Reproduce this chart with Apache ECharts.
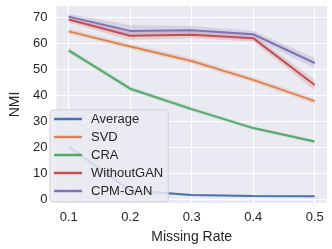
<!DOCTYPE html>
<html><head><meta charset="utf-8">
<script src="https://cdn.jsdelivr.net/npm/echarts@6/dist/echarts.min.js"></script>
<style>html,body{margin:0;padding:0;background:#fff}#c{width:332px;height:249px}</style>
</head><body><div id="c"></div>
<script>
const rates = [0.1, 0.2, 0.3, 0.4, 0.5];
const xTicks = [0.1, 0.2, 0.3, 0.4, 0.5];
const yTicks = [0, 10, 20, 30, 40, 50, 60, 70];
const names = ['Average', 'SVD', 'CRA', 'WithoutGAN', 'CPM-GAN'];
const average = [20.3, 3.3, 1.6, 1.2, 1.1];
const svd = [64.7, 58.9, 53.3, 46.0, 37.8];
const cra = [57.4, 42.6, 34.7, 27.4, 22.2];
const withoutGAN = [69.3, 63.0, 63.4, 62.1, 44.0];
const cpmGAN = [70.4, 64.9, 65.1, 63.6, 52.5];
const averageErr = [1.2, 0.8, 0.4, 0.4, 0.4];
const svdErr = [1.0, 1.0, 1.1, 1.0, 1.1];
const craErr = [1.0, 0.9, 0.8, 0.7, 0.7];
const withoutGANErr = [1.2, 1.6, 1.3, 1.3, 2.0];
const cpmGANErr = [1.0, 2.3, 1.7, 1.4, 2.0];
const colors = ['#4c72b0', '#dd8452', '#55a868', '#c44e52', '#8172b3'];

const means = [average, svd, cra, withoutGAN, cpmGAN];
const errs = [averageErr, svdErr, craErr, withoutGANErr, cpmGANErr];
const series = [];
means.forEach((m, i) => {
  const up = m.map((v, k) => [rates[k], v + errs[i][k]]);
  const lo = m.map((v, k) => [rates[k], v - errs[i][k]]);
  series.push({
    type: 'custom', name: 'band' + i, silent: true, z: 1,
    data: up.concat(lo),
    encode: {x: 0, y: 1},
    renderItem: function (params, api) {
      if (params.dataIndex !== 0) return null;
      const pts = up.map(p => api.coord(p)).concat(lo.slice().reverse().map(p => api.coord(p)));
      return {type: 'polygon', shape: {points: pts}, style: {fill: colors[i], opacity: 0.2}};
    }
  });
});
means.forEach((m, i) => {
  series.push({type: 'line', name: names[i], data: m.map((v, k) => [rates[k], v]), symbol: 'none',
    lineStyle: {color: colors[i], width: 2}, itemStyle: {color: colors[i]}, z: 3});
});

const chart = echarts.init(document.getElementById('c'), null, {renderer: 'canvas'});
const font = 'Liberation Sans, Arial, sans-serif';
chart.setOption({
  animation: false,
  backgroundColor: '#ffffff',
  color: colors,
  grid: {left: 44, right: 5, top: 6, bottom: 42, show: true, backgroundColor: '#eaeaf2', borderWidth: 0},
  xAxis: {
    type: 'value', min: 0.08, max: 0.52,
    name: 'Missing Rate', nameLocation: 'middle', nameGap: 27,
    nameTextStyle: {fontSize: 14, color: '#262626', fontFamily: font},
    axisLine: {show: false}, axisTick: {show: false, customValues: xTicks},
    axisLabel: {customValues: xTicks, fontSize: 13, color: '#262626', fontFamily: font, margin: 8,
      formatter: v => v.toFixed(1)},
    splitLine: {show: true, lineStyle: {color: '#ffffff', width: 1.2}}
  },
  yAxis: {
    type: 'value', min: -1.5, max: 74.5,
    name: 'NMI', nameLocation: 'middle', nameGap: 29, nameRotate: 90,
    nameTextStyle: {fontSize: 14, color: '#262626', fontFamily: font},
    axisLine: {show: false}, axisTick: {show: false, customValues: yTicks},
    axisLabel: {customValues: yTicks, fontSize: 13, color: '#262626', fontFamily: font, margin: 9},
    splitLine: {show: true, lineStyle: {color: '#ffffff', width: 1.2}}
  },
  legend: {
    data: names.map((n, i) => ({name: n, icon: 'rect', itemStyle: {color: colors[i]}})),
    orient: 'vertical', left: 50, top: 110,
    itemWidth: 28, itemHeight: 2.5, itemGap: 4,
    padding: [2, 5, 4, 4],
    backgroundColor: 'rgba(234,234,242,0.85)', borderColor: '#cfcfd6', borderWidth: 1, borderRadius: 3,
    textStyle: {fontSize: 13, color: '#262626', fontFamily: font, lineHeight: 14, padding: [0, 0, 0, 4]}
  },
  series: series
});
</script></body></html>
